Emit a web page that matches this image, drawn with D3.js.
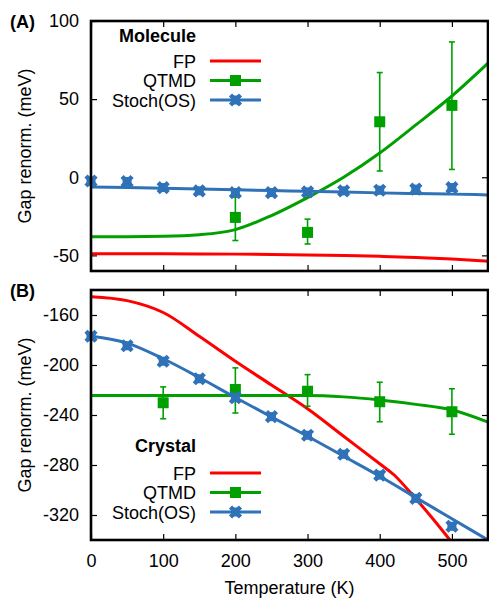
<!DOCTYPE html>
<html><head><meta charset="utf-8">
<script src="https://cdn.jsdelivr.net/npm/d3@7"></script>
<style>body{margin:0;background:#fff}svg text{font-family:"Liberation Sans",Arial,sans-serif}</style>
</head><body>
<script>
// ---- data ----
const temps = [0,50,100,150,200,250,300,350,400,450,500];
const curveT = [0,50,100,150,200,250,300,350,400,450,500,550];
// Molecule (A)
const molFP    = [-49,-49,-49,-49.1,-49.2,-49.4,-49.7,-50.1,-50.6,-51.3,-52.3,-53.7];
const molQTMDfit = [-38,-38,-37.8,-36.8,-33.5,-24.5,-13,0,15.5,33.5,52,73];
const molStochFit = [-6.2,-6.6,-7,-7.5,-8,-8.5,-9,-9.5,-10,-10.4,-10.8,-11.3];
const molStoch = [-2.4,-2.7,-6.6,-8.7,-9.8,-9.8,-9.4,-8.7,-8.3,-7.6,-6.6];
const qtmdT = [100,200,300,400,500];
const molQTMDT = [200,300,400,500];
const molQTMD = [-25.7,-35.3,35.5,46];
const molQTMDlo = [-40.5,-42.7,4,5];
const molQTMDhi = [-12.7,-26.8,67,86.6];
// Crystal (B)
const crysFPT = [0,50,100,150,200,250,300,350,400,420,450,475,500];
const crysFP  = [-145.4,-148.5,-158,-177,-197,-216,-235,-257,-279,-288,-307,-324,-342];
const crysQTMDfit = [-224.4,-224.4,-224.4,-224.4,-224.4,-224.4,-224.4,-225.5,-228,-231.5,-236,-245.6];
const crysStochFit = [-177,-182.5,-195,-210,-226,-241.5,-257,-273,-289,-306,-323,-340];
const crysStoch = [-177,-184.6,-197,-211,-226.2,-241.3,-256.2,-271.4,-288.1,-306.7,-329];
const crysQTMD = [-230.2,-219.6,-221,-229.4,-237.4];
const crysQTMDlo = [-243,-238.4,-233,-245.4,-255.4];
const crysQTMDhi = [-217.5,-202.3,-207.7,-213.8,-219];
const molTicks = [-50,0,50,100];
const crysTicks = [-320,-280,-240,-200,-160];
const xTicks = [0,100,200,300,400,500];
const seriesNames = ["FP","QTMD","Stoch(OS)"];

const RED="#ff0000", GREEN="#00a000", BLUE="#2f72b8";
const W=489,H=599;
const svg=d3.select("body").append("svg").attr("width",W).attr("height",H);
const x=d3.scaleLinear().domain([0,550]).range([91,488]);
const fmt=d=>String(d);

function panel(id, y0, y1, dom, yticks, label, showX){
  const y=d3.scaleLinear().domain(dom).range([y1,y0]);
  const g=svg.append("g");
  const clipId="clip"+id;
  svg.append("clipPath").attr("id",clipId).append("rect")
    .attr("x",91).attr("y",y0).attr("width",488-91).attr("height",y1-y0);
  const style=a=>{a.select(".domain").remove();a.selectAll("text").attr("font-size",18).attr("fill","#000");a.selectAll("line").attr("stroke","#000").attr("stroke-width",1.2);};
  g.append("g").attr("transform",`translate(91,0)`)
    .call(d3.axisLeft(y).tickValues(yticks).tickSize(-6).tickPadding(12).tickFormat(fmt)).call(style);
  g.append("g").attr("transform",`translate(488,0)`)
    .call(d3.axisRight(y).tickValues(yticks).tickSize(-6).tickFormat("")).call(style);
  g.append("g").attr("transform",`translate(0,${y1})`)
    .call(d3.axisBottom(x).tickValues(xTicks).tickSize(-6).tickPadding(14).tickFormat(showX?fmt:"")).call(style);
  g.append("g").attr("transform",`translate(0,${y0})`)
    .call(d3.axisTop(x).tickValues(xTicks).tickSize(-6).tickFormat("")).call(style);
  svg.append("text").attr("x",10).attr("y",y0+7).attr("font-size",18).attr("font-weight","bold").text(label);
  svg.append("text").attr("transform",`translate(31,${(y0+y1)/2}) rotate(-90)`)
    .attr("text-anchor","middle").attr("font-size",18).text("Gap renorm. (meV)");
  const plot=svg.append("g").attr("clip-path",`url(#${clipId})`);
  return {y,plot,y0,y1};
}

function drawCurve(p, ts, vs, color, curve){
  p.plot.append("path").datum(ts.map((t,i)=>[t,vs[i]]))
    .attr("d",d3.line().x(d=>x(d[0])).y(d=>p.y(d[1])).curve(curve||d3.curveMonotoneX))
    .attr("fill","none").attr("stroke",color).attr("stroke-width",3);
}
function crossMarker(g,cx,cy){
  const s=5;
  g.append("path").attr("d",`M${cx-s},${cy-s}L${cx+s},${cy+s}M${cx-s},${cy+s}L${cx+s},${cy-s}`)
    .attr("stroke",BLUE).attr("stroke-width",4.5).attr("fill","none");
  g.append("rect").attr("x",cx-4.5).attr("y",cy-4.5).attr("width",9).attr("height",9).attr("fill",BLUE);
}
function squareMarker(g,cx,cy,color){
  g.append("rect").attr("x",cx-5.5).attr("y",cy-5.5).attr("width",11).attr("height",11).attr("fill",color);
}
function drawQTMD(p, ts, vs, lo, hi){
  const g=svg.append("g");
  ts.forEach((t,i)=>{
    const cx=x(t);
    g.append("line").attr("x1",cx).attr("x2",cx).attr("y1",p.y(lo[i])).attr("y2",p.y(hi[i])).attr("stroke",GREEN).attr("stroke-width",1.6);
    [lo[i],hi[i]].forEach(v=>g.append("line").attr("x1",cx-3).attr("x2",cx+3).attr("y1",p.y(v)).attr("y2",p.y(v)).attr("stroke",GREEN).attr("stroke-width",1.6));
    squareMarker(g,cx,p.y(vs[i]),GREEN);
  });
}
function drawStoch(p, ts, vs){
  const g=svg.append("g");
  ts.forEach((t,i)=>crossMarker(g,x(t),p.y(vs[i])));
}
function legend(title, ty, y0){
  svg.append("text").attr("x",196).attr("y",ty+6).attr("text-anchor","end").attr("font-size",18).attr("font-weight","bold").text(title);
  const cols=[RED,GREEN,BLUE];
  seriesNames.forEach((n,i)=>{
    const yy=y0+i*19.5;
    svg.append("text").attr("x",196).attr("y",yy+6.5).attr("text-anchor","end").attr("font-size",18).text(n);
    svg.append("line").attr("x1",210).attr("x2",261).attr("y1",yy).attr("y2",yy).attr("stroke",cols[i]).attr("stroke-width",3);
    if(i===1) squareMarker(svg,235.5,yy,GREEN);
    if(i===2) crossMarker(svg,235.5,yy);
  });
}
function frame(y0,y1){
  svg.append("rect").attr("x",91).attr("y",y0).attr("width",488-91).attr("height",y1-y0)
    .attr("fill","none").attr("stroke","#000").attr("stroke-width",2.6);
}

// Panel A
const A=panel("A",21,271,[-60,100],molTicks,"(A)",false);
drawCurve(A,curveT,molFP,RED);
drawCurve(A,curveT,molQTMDfit,GREEN);
drawCurve(A,curveT,molStochFit,BLUE);
drawQTMD(A,molQTMDT,molQTMD,molQTMDlo,molQTMDhi);
drawStoch(A,temps,molStoch);
legend("Molecule",36,61);
frame(21,271);

// Panel B
const B=panel("B",290,540,[-340,-140],crysTicks,"(B)",true);
drawCurve(B,crysFPT,crysFP,RED,d3.curveCatmullRom.alpha(0.5));
drawCurve(B,curveT,crysQTMDfit,GREEN);
drawCurve(B,curveT,crysStochFit,BLUE);
drawQTMD(B,qtmdT,crysQTMD,crysQTMDlo,crysQTMDhi);
drawStoch(B,temps,crysStoch);
legend("Crystal",446,473);
frame(290,540);

svg.append("text").attr("x",289.5).attr("y",594).attr("text-anchor","middle").attr("font-size",18).text("Temperature (K)");
</script>
</body></html>
